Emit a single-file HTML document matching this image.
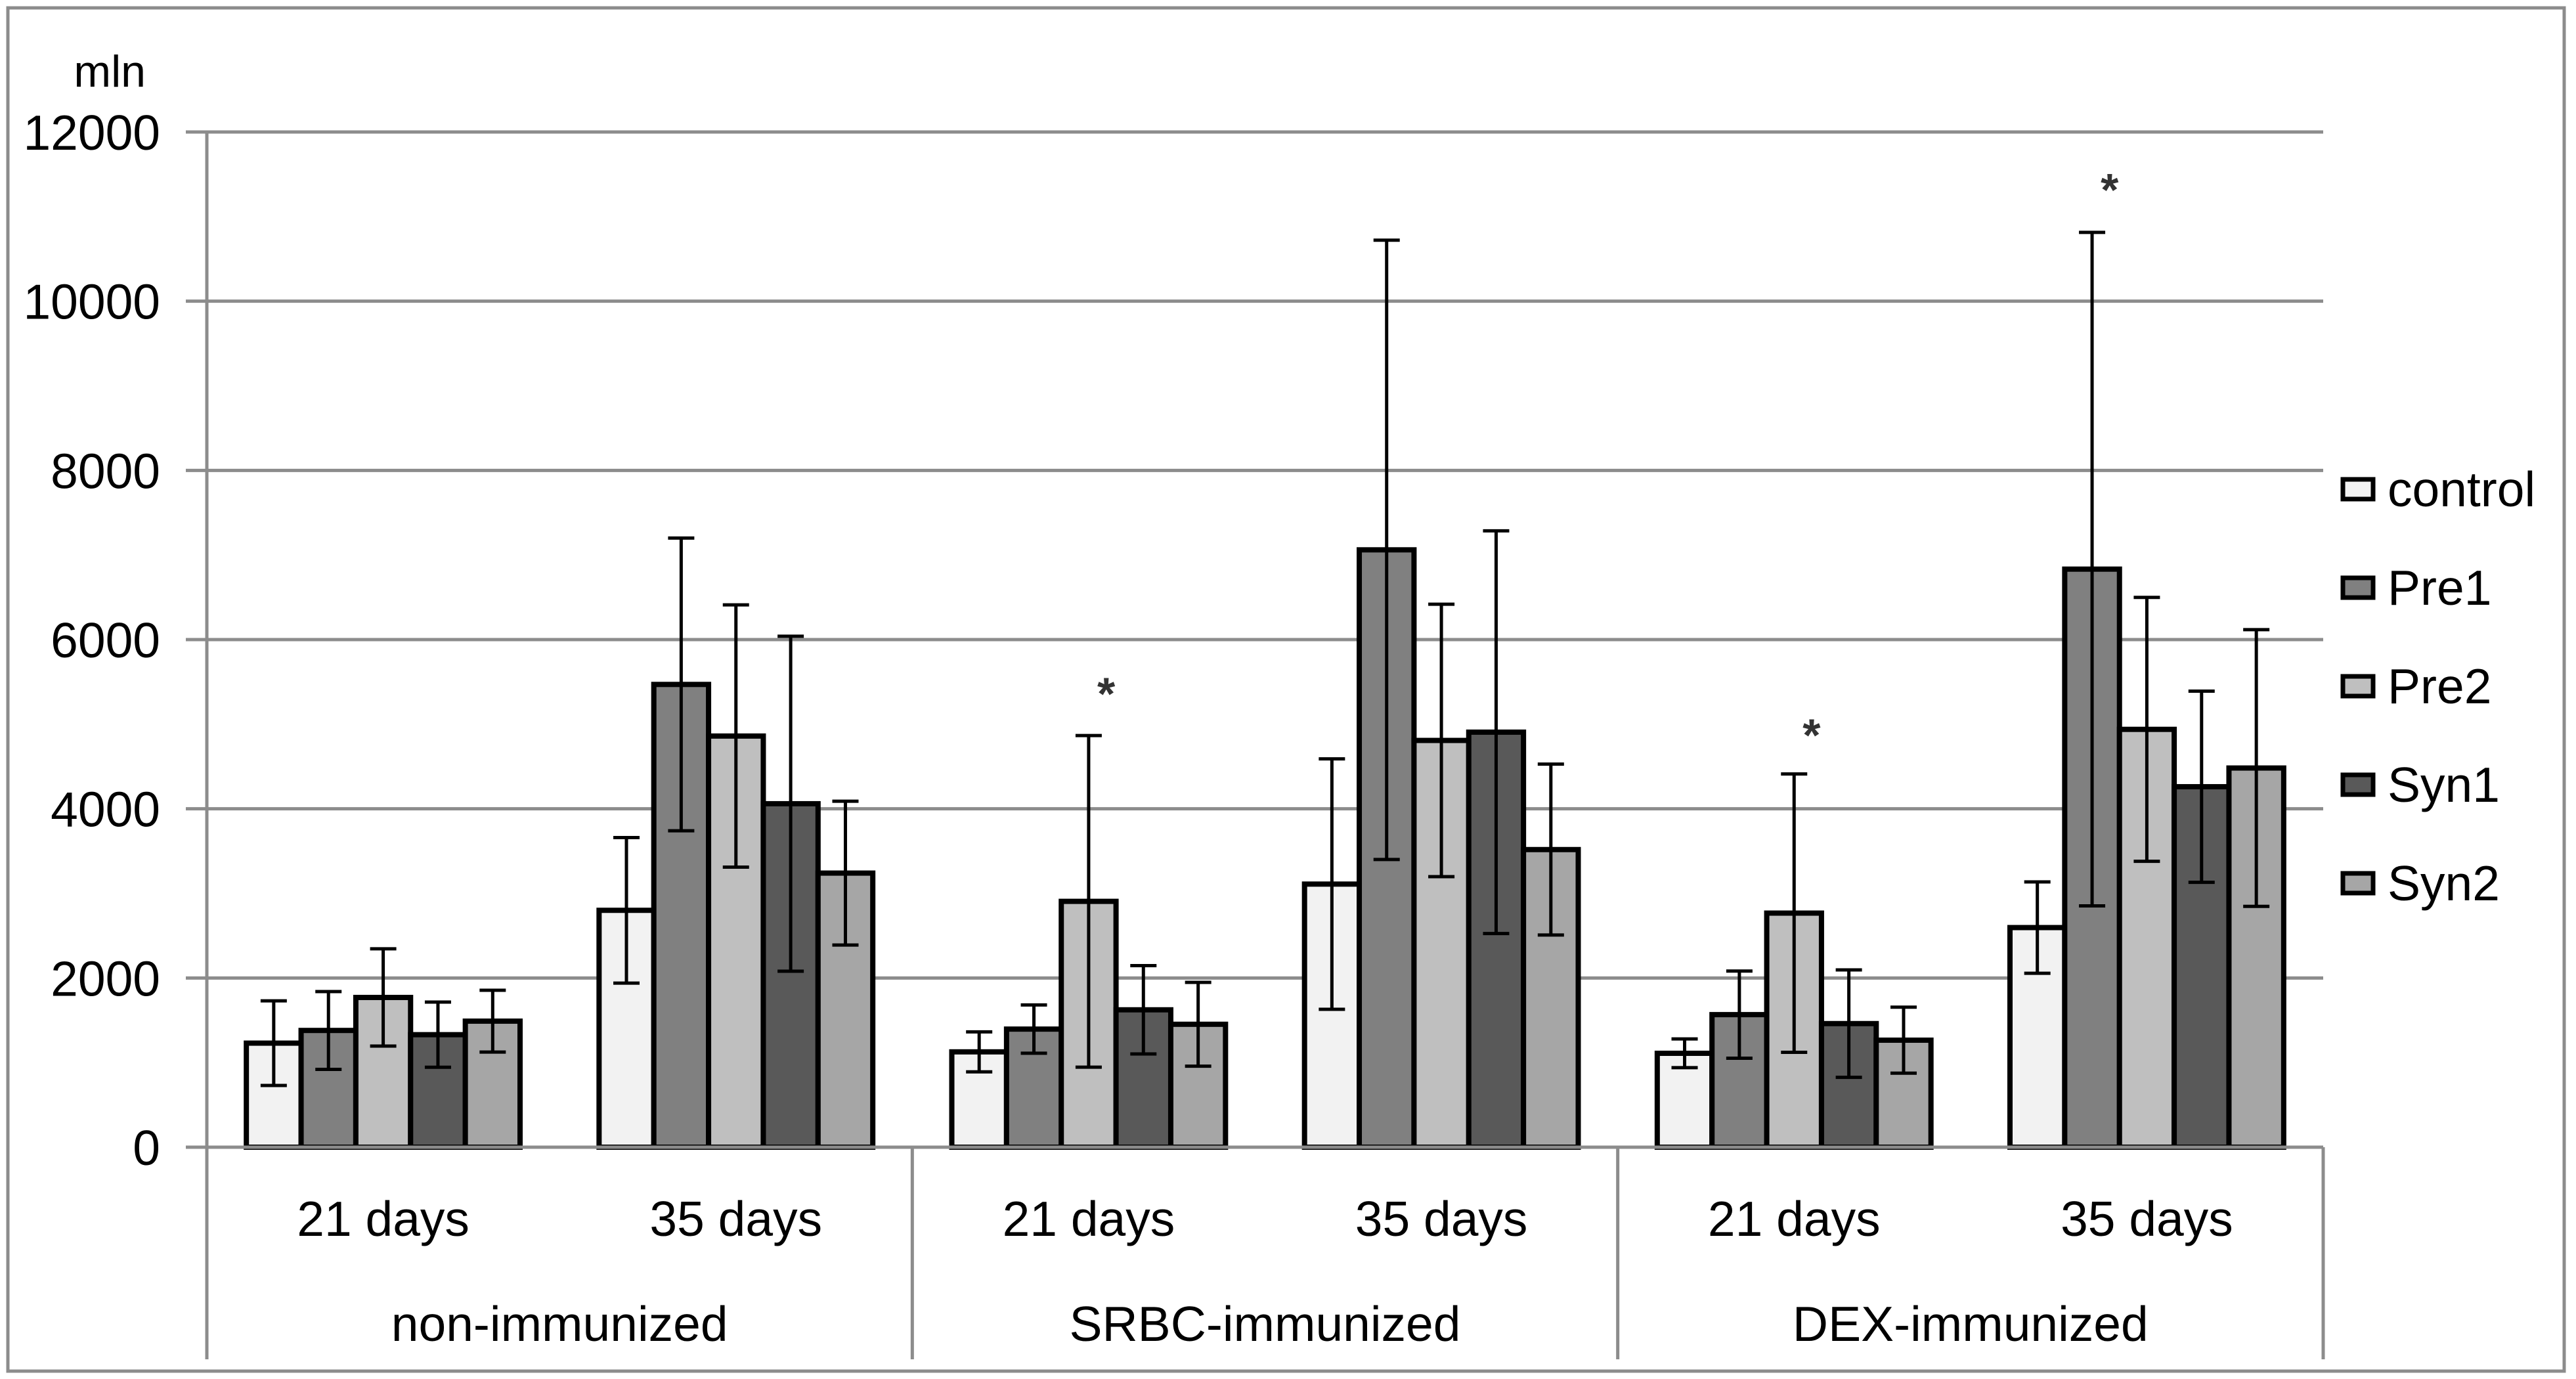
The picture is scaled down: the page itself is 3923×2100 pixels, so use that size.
<!DOCTYPE html>
<html><head><meta charset="utf-8"><style>
html,body{margin:0;padding:0;background:#fff;}
svg{display:block;font-family:"Liberation Sans",sans-serif;}
</style></head><body>
<svg id="chart" width="3923" height="2100" viewBox="0 0 3923 2100" xmlns="http://www.w3.org/2000/svg">
<rect x="12" y="12" width="3893" height="2076" fill="#fff" stroke="#8c8c8c" stroke-width="5"/>
<g id="grid"></g>
<g id="bars"></g>
<g id="axes"></g>
<g id="legend"></g>
</svg>
<script>
const categories = ["21 days","35 days","21 days","35 days","21 days","35 days"];
const groups = ["non-immunized","SRBC-immunized","DEX-immunized"];
const seriesNames = ["control","Pre1","Pre2","Syn1","Syn2"];
const seriesColors = ["#f2f2f2","#808080","#bfbfbf","#595959","#a6a6a6"];
const control = [1230,2800,1127,3110,1110,2596];
const pre1 = [1380,5470,1396,7061,1567,6833];
const pre2 = [1770,4860,2906,4808,2767,4939];
const syn1 = [1330,4060,1624,4906,1461,4261];
const syn2 = [1490,3240,1453,3518,1265,4482];
const controlErr = [500,860,236,1480,170,540];
const pre1Err = [460,1730,285,3660,515,3980];
const pre2Err = [575,1550,1960,1610,1645,1560];
const syn1Err = [385,1980,522,2380,635,1130];
const syn2Err = [365,850,495,1010,390,1635];
const yTicks = [0,2000,4000,6000,8000,10000,12000];
const stars = [[2,2,5437],[4,2,4947],[5,1,11396]];

const NS="http://www.w3.org/2000/svg";
const X0=315,X1=3538,Y0=1747,Y1=201,YMAX=12000;
const FS=75;
const y=v=>Y0-(v/YMAX)*(Y0-Y1);
const catW=(X1-X0)/categories.length;
const groupW=catW*0.776, barW=groupW/5;
const barX=(c,s)=>X0+catW*c+(catW-groupW)/2+barW*s;
function el(tag,attrs,parent,text){const e=document.createElementNS(NS,tag);for(const k in attrs)e.setAttribute(k,attrs[k]);if(text!==undefined)e.textContent=text;parent.appendChild(e);return e;}
const grid=document.getElementById('grid'),bars=document.getElementById('bars'),axes=document.getElementById('axes'),legend=document.getElementById('legend');
yTicks.forEach(t=>{
  const l=el('line',{x1:283,x2:X1,y1:y(t),y2:y(t),stroke:'#8c8c8c','stroke-width':5},grid);
  
  
  const tx=el('text',{x:244,y:y(t)+27,'text-anchor':'end','font-size':FS,fill:'#000'},axes,String(t));
  
  
});
const ml=el('text',{x:222,y:132,'text-anchor':'end','font-size':68,fill:'#000'},axes,'mln');


const values=[control,pre1,pre2,syn1,syn2];
const errs=[controlErr,pre1Err,pre2Err,syn1Err,syn2Err];
values.forEach((arr,s)=>{arr.forEach((v,c)=>{
  const r=el('rect',{x:barX(c,s),y:y(v),width:barW,height:Y0-y(v),fill:seriesColors[s],stroke:'#000','stroke-width':8},bars);
  
  
});});
values.forEach((arr,s)=>{arr.forEach((v,c)=>{
  const cx=barX(c,s)+barW/2,e=errs[s][c];
  const g=el('g',{stroke:'#000','stroke-width':5},bars);
  
  
  el('line',{x1:cx,x2:cx,y1:y(v+e),y2:y(v-e)},g);
  el('line',{x1:cx-20,x2:cx+20,y1:y(v+e),y2:y(v+e)},g);
  el('line',{x1:cx-20,x2:cx+20,y1:y(v-e),y2:y(v-e)},g);
});});
stars.forEach(([c,s,v])=>{
  const t=el('text',{x:barX(c,s)+barW*0.82,y:y(v)+34,'text-anchor':'middle','font-size':70,'font-weight':'bold',fill:'#333'},bars,'*');
  
  
});
const ax=el('line',{x1:X0,x2:X0,y1:Y1,y2:2070,stroke:'#8c8c8c','stroke-width':5},axes);


const bl=el('line',{x1:X0,x2:X1,y1:Y0,y2:Y0,stroke:'#8c8c8c','stroke-width':5},axes);


[1,2,3].forEach(i=>{
  const d=el('line',{x1:X0+catW*2*i,x2:X0+catW*2*i,y1:Y0,y2:2070,stroke:'#8c8c8c','stroke-width':5},axes);
  
  
});
categories.forEach((c,i)=>{
  const t=el('text',{x:X0+catW*(i+0.5),y:1882,'text-anchor':'middle','font-size':FS,fill:'#000'},axes,c);
  
  
});
groups.forEach((g,i)=>{
  const t=el('text',{x:X0+catW*(2*i+1),y:2042,'text-anchor':'middle','font-size':FS,fill:'#000'},axes,g);
  
  
});
seriesNames.forEach((n,i)=>{
  const yy=745+150*i;
  const r=el('rect',{x:3568,y:yy-15,width:46,height:30,fill:seriesColors[i],stroke:'#000','stroke-width':7},legend);
  
  
  const t=el('text',{x:3636,y:yy+26,'font-size':FS,fill:'#000'},legend,n);
  
  
});
</script>
</body></html>
